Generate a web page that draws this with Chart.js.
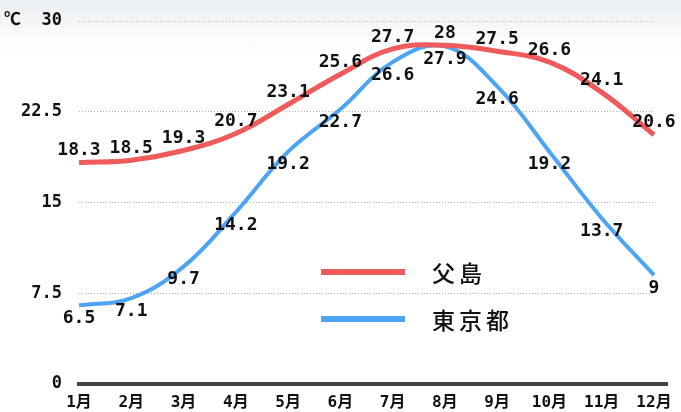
<!DOCTYPE html>
<html>
<head>
<meta charset="utf-8">
<script src="https://cdn.jsdelivr.net/npm/chart.js@4"></script>
<style>
  html, body { margin: 0; padding: 0; }
  body {
    width: 681px; height: 412px; overflow: hidden;
    background: linear-gradient(to bottom, #eaeef2 0px, #f7f9fa 30px, #ffffff 55px);
  }
  canvas { display: block; }
</style>
</head>
<body>
<canvas id="myChart" width="681" height="412"></canvas>
<script>
const months = ['1月', '2月', '3月', '4月', '5月', '6月', '7月', '8月', '9月', '10月', '11月', '12月'];
const chichijima = [18.3, 18.5, 19.3, 20.7, 23.1, 25.6, 27.7, 28, 27.5, 26.6, 24.1, 20.6];
const tokyo = [6.5, 7.1, 9.7, 14.2, 19.2, 22.7, 26.6, 27.9, 24.6, 19.2, 13.7, 9];
const yTicks = [0, 7.5, 15, 22.5, 30];
const unit = '℃';

const numFont = '"DejaVu Sans Mono", monospace';
const jpFont = '"Noto Sans CJK JP", sans-serif';

// value labels: red above the point, blue below
const valueLabels = {
    id: 'valueLabels',
    afterDatasetsDraw(chart) {
        const ctx = chart.ctx;
        ctx.save();
        ctx.font = 'bold 18px ' + numFont;
        ctx.fillStyle = '#111';
        ctx.textAlign = 'center';
        ctx.textBaseline = 'middle';
        chart.data.datasets.forEach((ds, i) => {
            const meta = chart.getDatasetMeta(i);
            meta.data.forEach((pt, j) => {
                const dy = i === 0 ? -12 : 13;
                ctx.fillText(String(ds.data[j]), pt.x, pt.y + dy);
            });
        });
        ctx.restore();
    }
};

// zero axis line and legend drawn inside the plot
const extras = {
    id: 'extras',
    beforeDatasetsDraw(chart) {
        const ctx = chart.ctx;
        const y0 = chart.scales.y.getPixelForValue(0);
        ctx.save();
        ctx.strokeStyle = '#444';
        ctx.lineWidth = 4;
        ctx.beginPath();
        ctx.moveTo(chart.chartArea.left - 2, y0);
        ctx.lineTo(668, y0);
        ctx.stroke();
        ctx.restore();
    },
    afterDraw(chart) {
        const ctx = chart.ctx;
        ctx.save();
        const rows = [272, 319];
        chart.data.datasets.forEach((ds, i) => {
            ctx.strokeStyle = ds.borderColor;
            ctx.lineWidth = 6;
            ctx.beginPath();
            ctx.moveTo(321, rows[i]);
            ctx.lineTo(405, rows[i]);
            ctx.stroke();
            ctx.fillStyle = '#111';
            ctx.font = '500 23px ' + jpFont;
            ctx.letterSpacing = '4px';
            ctx.textAlign = 'left';
            ctx.textBaseline = 'middle';
            ctx.fillText(ds.label, 432, rows[i] + 1);
        });
        ctx.restore();
    }
};

const ctx = document.getElementById('myChart');

new Chart(ctx, {
    type: 'line',
    data: {
        labels: months,
        datasets: [{
            label: '父島',
            data: chichijima,
            borderColor: '#ef5b5b',
            borderWidth: 5,
            pointRadius: 0,
            tension: 0.4
        }, {
            label: '東京都',
            data: tokyo,
            borderColor: '#4ea4f4',
            borderWidth: 4,
            pointRadius: 0,
            tension: 0.4
        }]
    },
    options: {
        responsive: false,
        animation: false,
        layout: { padding: { top: 21, right: 27, bottom: 0, left: 0 } },
        plugins: {
            legend: { display: false },
            tooltip: { enabled: false }
        },
        scales: {
            x: {
                offset: false,
                grid: { display: false },
                border: { display: false },
                ticks: {
                    color: '#111',
                    font: { family: numFont + ', ' + jpFont, size: 16, weight: 'bold' },
                    padding: 1,
                    maxRotation: 0,
                    autoSkip: false
                },
                afterFit(scale) { scale.height = 28; }
            },
            y: {
                min: 0,
                max: 30,
                afterBuildTicks(scale) { scale.ticks = yTicks.map(v => ({ value: v })); },
                border: { display: false, dash: [1, 2] },
                grid: {
                    color: c => c.tick.value === 0 ? 'rgba(0,0,0,0)' : '#b0b0b0',
                    lineWidth: 1,
                    drawTicks: false
                },
                ticks: {
                    color: '#111',
                    padding: 17,
                    font: { family: numFont + ', ' + jpFont, size: 17, weight: 'bold' },
                    callback: v => v === 30 ? unit + '  ' + v : String(v)
                },
                afterFit(scale) {
                    scale.width = 79;
                    scale.paddingTop = 0;
                    scale.paddingBottom = 0;
                }
            }
        }
    },
    plugins: [valueLabels, extras]
});
</script>
</body>
</html>
